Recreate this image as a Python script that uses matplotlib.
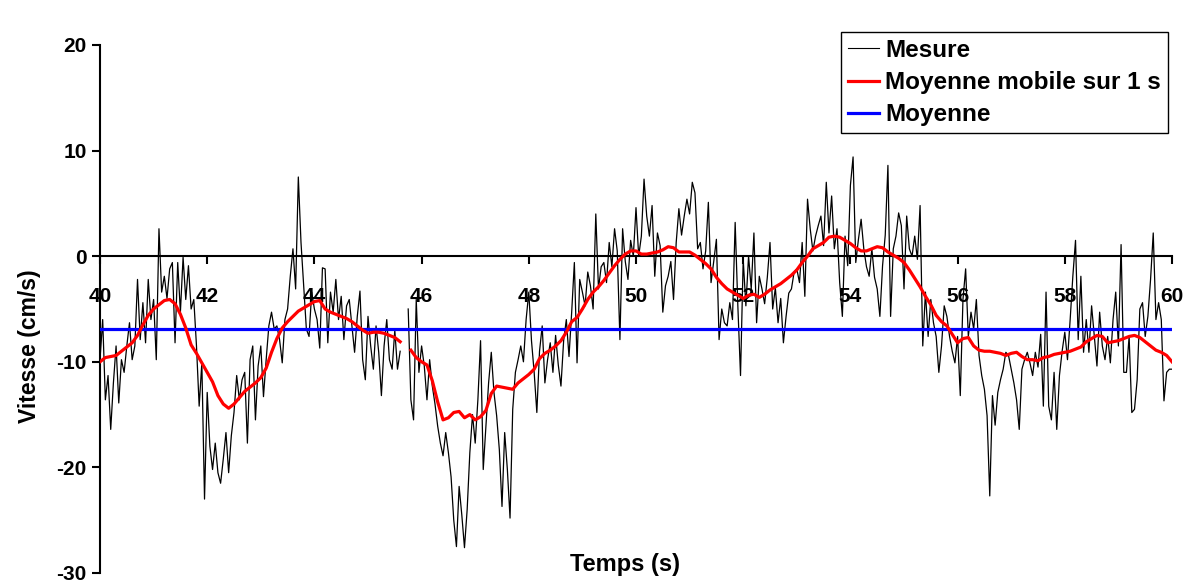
import numpy as np
import matplotlib
matplotlib.use("Agg")
import matplotlib.pyplot as plt
from matplotlib.lines import Line2D

nan = np.nan

# Measured velocity (cm/s), sampled every 0.05 s from 40 s to 60 s (one row per second)
mesure = [
    -9.8, -6.0, -13.6, -11.3, -16.4, -12.0, -8.5, -13.9, -9.8, -11.0, -8.5, -6.3, -9.8, -8.5, -2.2, -7.9, -4.4, -8.2, -2.2, -6.0,
    -4.1, -9.8, 2.6, -3.4, -1.9, -4.0, -1.2, -0.6, -8.2, -0.6, -5.3, -0.1, -4.1, -0.9, -5.0, -4.1, -8.5, -14.2, -10.1, -23.0,
    -12.9, -18.0, -20.2, -17.7, -20.5, -21.5, -19.2, -16.7, -20.5, -17.0, -14.8, -11.3, -13.6, -11.7, -11.0, -17.7, -9.8, -8.5, -15.5, -10.4,
    -8.5, -13.3, -9.8, -6.6, -5.3, -6.9, -6.6, -7.9, -10.1, -6.0, -5.0, -1.9, 0.7, -3.1, 7.5, 1.3, -2.8, -6.9, -7.6, -3.4,
    -5.0, -6.0, -8.7, -1.1, -1.2, -8.2, -3.4, -5.3, -2.2, -6.0, -3.8, -7.9, -4.7, -4.1, -6.6, -9.1, -5.7, -3.3, -9.8, -11.7,
    -5.7, -8.5, -10.7, -6.6, -9.1, -13.2, -8.5, -6.0, -9.8, -10.7, -7.0, -10.7, -9.0, nan, nan, -5.0, -13.6, -15.5, -4.1, -11.0,
    -8.5, -10.4, -13.6, -9.8, -12.3, -14.0, -16.1, -17.7, -18.9, -16.7, -18.6, -20.9, -25.0, -27.5, -21.8, -24.5, -27.6, -24.0, -18.6, -15.0,
    -17.7, -13.6, -8.0, -20.2, -16.1, -12.0, -9.1, -12.9, -15.1, -18.3, -23.7, -16.7, -20.2, -24.8, -14.5, -11.0, -9.8, -8.5, -10.0, -6.0,
    -3.4, -8.0, -11.0, -14.8, -9.0, -6.6, -12.0, -9.8, -8.2, -11.0, -7.5, -10.3, -12.3, -8.0, -6.0, -9.5, -5.3, -0.6, -10.1, -2.2,
    -3.4, -4.7, -1.5, -2.8, -5.0, 4.0, -3.1, -1.0, -0.6, -2.5, 1.3, -1.0, 2.6, 0.5, -7.9, 2.6, -0.5, -2.2, 1.5, 0.0,
    4.6, 0.0, 1.9, 7.3, 3.8, 1.9, 4.8, -1.9, 2.2, 1.0, -5.3, -2.8, -1.9, -0.5, -4.1, 1.3, 4.5, 2.0, 3.8, 5.4,
    4.0, 7.0, 6.0, 0.7, 1.3, -1.2, 0.5, 5.1, -2.5, -0.5, 1.6, -7.9, -5.0, -6.3, -6.6, -4.4, -6.0, 3.2, -4.7, -11.3,
    -0.3, -4.7, 0.0, -3.1, 2.2, -6.3, -1.9, -3.1, -4.5, -2.0, 1.3, -5.0, -3.0, -6.3, -4.0, -8.2, -5.7, -3.5, -3.1, -1.5,
    -1.2, -2.5, 1.3, -3.8, 5.4, 2.6, 0.5, 1.9, 2.9, 3.8, 1.0, 7.0, 2.2, 5.7, 0.7, 2.6, -2.5, -5.7, 1.9, -0.9,
    6.7, 9.4, -0.6, 1.6, 3.5, 0.7, -1.0, -1.9, 0.7, -2.0, -3.1, -5.7, -0.9, 2.0, 8.6, -5.7, 0.7, 1.9, 4.1, 2.9,
    -3.1, 3.8, 0.7, 0.0, 1.9, -0.3, 4.8, -8.5, -3.4, -7.6, -4.1, -6.3, -7.6, -11.0, -8.5, -4.7, -5.7, -7.6, -9.0, -10.1,
    -7.6, -13.2, -4.1, -1.2, -7.6, -5.3, -6.9, -4.1, -9.4, -11.3, -12.6, -15.1, -22.7, -13.2, -16.0, -12.9, -11.7, -10.7, -9.1, -9.4,
    -10.7, -12.0, -13.6, -16.4, -10.7, -9.8, -9.1, -10.1, -11.3, -9.1, -10.5, -7.4, -14.2, -3.4, -14.2, -15.5, -11.0, -16.4, -11.3, -9.0,
    -7.2, -9.8, -6.0, -1.9, 1.5, -7.9, -1.9, -9.1, -6.0, -9.1, -4.7, -7.6, -10.4, -5.3, -8.5, -9.8, -7.6, -10.1, -6.0, -3.4,
    -8.5, 1.1, -11.0, -11.0, -7.6, -14.8, -14.5, -11.7, -5.0, -4.4, -7.6, -5.7, -2.2, 2.2, -6.0, -4.4, -6.0, -13.7, -11.0, -10.7,
    -10.7,
]
t_mesure_start, t_mesure_step = 40.0, 0.05

# 1 s moving average (cm/s), every 0.1 s from 40 s to 60 s (one row per second)
moyenne_mobile = [
    -10.0, -9.6, -9.5, -9.4, -9.0, -8.6, -8.2, -7.5, -6.5, -5.6,
    -5.0, -4.6, -4.2, -4.1, -4.5, -5.5, -6.8, -8.4, -9.2, -10.1,
    -11.0, -11.9, -13.2, -14.0, -14.4, -14.0, -13.4, -12.8, -12.4, -12.0,
    -11.5, -10.6, -9.1, -7.8, -6.8, -6.2, -5.7, -5.2, -4.9, -4.6,
    -4.3, -4.2, -5.0, -5.3, -5.5, -5.7, -5.9, -6.2, -6.6, -7.0,
    -7.3, -7.2, -7.2, -7.3, -7.5, -7.7, -8.1, nan, -8.9, -9.6,
    -10.0, -10.3, -11.8, -13.8, -15.5, -15.3, -14.8, -14.7, -15.3, -15.0,
    -15.5, -15.2, -14.6, -13.0, -12.3, -12.4, -12.5, -12.6, -12.0, -11.6,
    -11.2, -10.7, -9.7, -9.2, -8.9, -8.5, -8.0, -7.2, -6.2, -5.8,
    -5.0, -4.1, -3.4, -2.9, -2.3, -1.6, -0.9, -0.3, 0.2, 0.5,
    0.5, 0.2, 0.2, 0.3, 0.4, 0.6, 0.9, 0.8, 0.4, 0.4,
    0.4, 0.1, -0.3, -0.7, -1.2, -2.0, -2.6, -3.1, -3.4, -3.7,
    -4.0, -3.7, -3.6, -3.9, -3.6, -3.2, -2.9, -2.6, -2.2, -1.8,
    -1.3, -0.6, 0.0, 0.7, 1.0, 1.3, 1.8, 1.9, 1.8, 1.5,
    1.2, 0.8, 0.5, 0.5, 0.7, 0.9, 0.8, 0.4, 0.1, -0.2,
    -0.6, -1.3, -2.1, -2.9, -3.8, -4.6, -5.6, -6.2, -6.6, -7.4,
    -8.2, -7.8, -7.7, -8.5, -8.9, -9.0, -9.0, -9.1, -9.2, -9.4,
    -9.2, -9.1, -9.5, -9.8, -9.8, -9.9, -9.6, -9.5, -9.3, -9.2,
    -9.1, -9.0, -8.8, -8.6, -8.1, -7.8, -7.5, -7.6, -8.2, -8.1,
    -8.0, -7.8, -7.6, -7.5, -7.7, -8.1, -8.5, -8.9, -9.1, -9.4,
    -10.0,
]
t_mm_start, t_mm_step = 40.0, 0.1

# Overall mean velocity (cm/s)
moyenne = -6.9

x_ticks = [40, 42, 44, 46, 48, 50, 52, 54, 56, 58, 60]
y_ticks = [20, 10, 0, -10, -20, -30]
labels = ["Mesure", "Moyenne mobile sur 1 s", "Moyenne"]

plt.rcParams["font.family"] = ["Liberation Sans", "DejaVu Sans"]
plt.rcParams["font.weight"] = "bold"

t_mesure = t_mesure_start + t_mesure_step * np.arange(len(mesure))
t_mm = t_mm_start + t_mm_step * np.arange(len(moyenne_mobile))

fig = plt.figure(figsize=(11.92, 5.80), dpi=100)
ax = fig.add_axes([100 / 1192, 7 / 580, 1072 / 1192, 528 / 580])

ax.plot(t_mesure, mesure, color="black", lw=0.9, zorder=2)
ax.plot(t_mm, moyenne_mobile, color="#ff0000", lw=2.3, zorder=4)
ax.plot([x_ticks[0], x_ticks[-1]], [moyenne, moyenne], color="#0000ff", lw=2.3, zorder=3)

ax.set_xlim(40, 60)
ax.set_ylim(-30, 20)

for side in ("top", "right"):
    ax.spines[side].set_visible(False)
ax.spines["bottom"].set_position(("data", 0))
ax.spines["bottom"].set_linewidth(1.5)
ax.spines["left"].set_linewidth(1.5)
ax.spines["bottom"].set_zorder(1)

ax.set_xticks(x_ticks)
ax.set_xticklabels([str(v) for v in x_ticks])
ax.set_yticks(y_ticks)
ax.set_yticklabels([str(v) for v in y_ticks])
ax.tick_params(axis="x", direction="out", length=5.5, width=1.5, pad=17, labelsize=15)
ax.tick_params(axis="y", direction="out", length=5.5, width=1.5, pad=4, labelsize=15)
for lab in ax.get_xticklabels() + ax.get_yticklabels():
    lab.set_fontweight("bold")

fig.text(625 / 1192, 1 - 565 / 580, "Temps (s)", ha="center", va="center",
         fontsize=17, fontweight="bold")
fig.text(30 / 1192, 1 - 346 / 580, "Vitesse (cm/s)", ha="center", va="center",
         rotation=90, fontsize=16.5, fontweight="bold")

handles = [
    Line2D([], [], color="black", lw=0.8),
    Line2D([], [], color="#ff0000", lw=2.3),
    Line2D([], [], color="#0000ff", lw=2.3),
]
leg = fig.legend(handles, labels, loc="upper right",
                 bbox_to_anchor=(1168 / 1192, 1 - 32 / 580),
                 frameon=True, fancybox=False, shadow=False, framealpha=1,
                 edgecolor="black", fontsize=17.5, handlelength=1.3,
                 handletextpad=0.25, labelspacing=0.38, borderpad=0.28,
                 borderaxespad=0)
leg.get_frame().set_linewidth(1.0)
for txt in leg.get_texts():
    txt.set_fontweight("bold")

fig.savefig("out.png", dpi=100)
